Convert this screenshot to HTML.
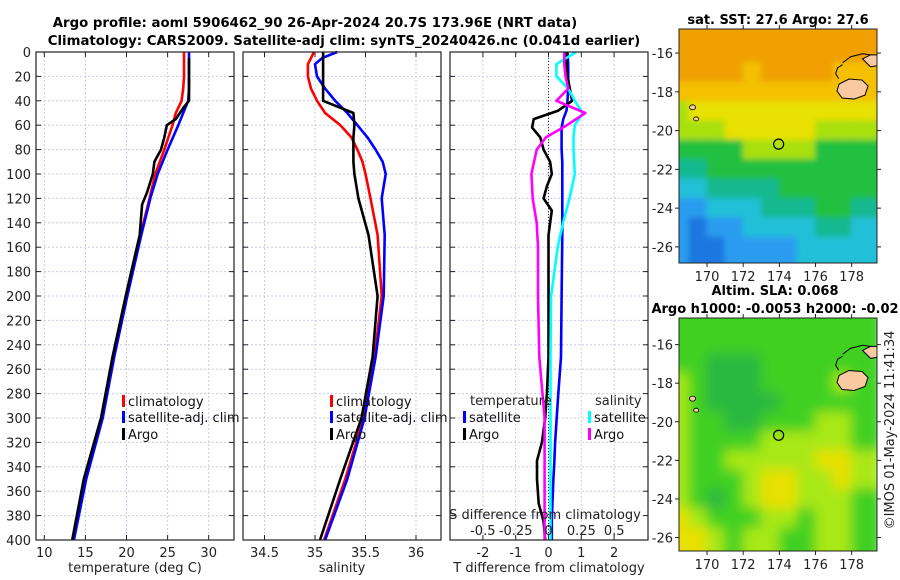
<!DOCTYPE html>
<html><head><meta charset="utf-8"><style>
html,body{margin:0;padding:0;background:#fff}
svg{display:block;font-family:"DejaVu Sans","Liberation Sans",sans-serif}
</style></head><body>
<svg id="chart" width="900" height="580" viewBox="0 0 900 580" xmlns="http://www.w3.org/2000/svg">
<defs>
<filter id="blurSST" x="-10%" y="-10%" width="120%" height="120%"><feGaussianBlur stdDeviation="3"/></filter>
<filter id="blurSLA" x="-10%" y="-10%" width="120%" height="120%"><feGaussianBlur stdDeviation="6"/></filter>
</defs>
<rect width="900" height="580" fill="#fff"/>
<text x="315" y="27" text-anchor="middle" font-size="13.3" font-weight="bold">Argo profile: aoml 5906462_90 26-Apr-2024 20.7S 173.96E (NRT data)</text>
<text x="344" y="45" text-anchor="middle" font-size="13.3" font-weight="bold">Climatology: CARS2009. Satellite-adj clim: synTS_20240426.nc (0.041d earlier)</text>
<text x="778" y="24" text-anchor="middle" font-size="13" font-weight="bold">sat. SST: 27.6 Argo: 27.6</text>
<text x="775" y="295" text-anchor="middle" font-size="13" font-weight="bold">Altim. SLA: 0.068</text>
<text x="775" y="313" text-anchor="middle" font-size="13" font-weight="bold">Argo h1000: -0.0053 h2000: -0.02</text>
<text transform="translate(894,430) rotate(-90)" text-anchor="middle" font-size="13" fill="#222">©IMOS 01-May-2024 11:41:34</text>
<g id="plots"></g>
</svg>
<script>
// ---- data ----
const depthT = [0,10,20,30,40,50,60,80,100,120,150,200,250,300,350,400];
const tempClim = [27.0,27.0,27.0,26.9,26.7,26.0,25.6,24.6,23.5,22.8,21.7,20.0,18.4,17.0,15.0,13.5];
const tempSat  = [27.6,27.6,27.6,27.6,27.5,26.9,26.3,25.0,23.8,22.9,21.8,20.1,18.5,17.1,15.1,13.6];
const depthArgo = [5,10,20,30,40,45,55,60,70,80,90,100,115,125,150,200,250,300,350,400];
const tempArgo = [27.6,27.6,27.6,27.6,27.6,27.0,26.0,24.9,24.6,24.2,23.4,23.2,22.5,21.9,21.6,19.9,18.3,16.9,14.8,13.4];
const depthS = [0,5,10,20,30,40,50,60,70,80,90,100,120,150,200,250,300,350,400];
const salClim = [34.99,34.96,34.93,34.93,34.96,35.02,35.10,35.25,35.36,35.42,35.47,35.50,35.55,35.62,35.66,35.59,35.48,35.30,35.09];
const salSat  = [35.22,35.07,35.00,35.02,35.10,35.20,35.32,35.42,35.52,35.60,35.67,35.70,35.66,35.69,35.68,35.60,35.49,35.32,35.10];
const salArgo = [35.08,35.08,35.08,35.08,35.08,35.08,35.38,35.39,35.38,35.38,35.38,35.39,35.43,35.53,35.62,35.57,35.46,35.25,35.05];
const depthD = [0,10,20,30,40,48,55,62,70,80,90,100,110,120,130,150,200,250,280,300,320,335,350,370,385,400];
const dTsat  = [0.58,0.6,0.6,0.6,0.58,0.55,0.45,0.4,0.4,0.4,0.42,0.42,0.42,0.42,0.42,0.42,0.4,0.38,0.3,0.25,0.2,0.18,0.15,0.12,0.1,0.1];
const dTargo = [0.55,0.55,0.58,0.65,0.72,0.3,-0.45,-0.5,-0.25,-0.15,0.05,0.1,-0.05,-0.15,0.1,0.0,0.0,0.0,-0.05,-0.1,-0.2,-0.35,-0.35,-0.3,-0.15,-0.1];
const depthDS = [0,10,20,30,40,50,60,70,80,100,120,140,160,200,250,300,350,400];
const dSsat  = [0.21,0.06,0.06,0.15,0.2,0.26,0.2,0.19,0.19,0.2,0.16,0.11,0.07,0.02,0.015,0.015,0.015,0.015];
const dSargo = [0.12,0.12,0.13,0.15,0.06,0.28,0.14,-0.02,-0.09,-0.13,-0.12,-0.09,-0.08,-0.08,-0.07,-0.03,-0.03,-0.03];
const depthTicks = [0,20,40,60,80,100,120,140,160,180,200,220,240,260,280,300,320,340,360,380,400];
const tTicks = [10,15,20,25,30];
const sTicks = [34.5,35,35.5,36];
const dTicks = [-2,-1,0,1,2];
const dsTicks = [-0.5,-0.25,0,0.25,0.5];
const dsTickLabels = ["-0.5","-0.25","0","0.25","0.5"];
const lonTicks = [170,172,174,176,178];
const latTicks = [-16,-18,-20,-22,-24,-26];
// SST map colour-class grid (rows lat -15..-27, cols lon 168.5..179.5)
const sstGrid = [
[8,8,8,8,8,8,8,8,8,8,8],[8,8,8,8,8,8,8,8,8,8,8],[8,8,8,8,7,8,8,8,8,7,7],
[7,7,7,7,7,7,7,7,7,7,7],[5,6,6,6,6,6,6,6,6,6,6],[5,5,5,6,6,6,6,6,5,5,5],
[4,4,4,4,5,5,5,5,4,4,4],[3,3,4,4,4,4,4,4,4,4,4],[2,2,3,3,3,3,4,4,4,4,4],
[1,1,2,2,2,3,3,3,4,4,3],[1,0,1,1,2,2,2,2,3,3,2],[1,0,0,1,1,1,1,2,2,2,2],[1,0,0,1,1,1,1,2,2,2,2]];
const sstColors = ["#1a78e0","#2a9cf0","#20c0d8","#18b890","#20c040","#a8e010","#e8e000","#f4c000","#f0a000"];
const slaGrid = [
[1,1,1,1,1,1,1,1,1,1,1],[1,1,1,1,1,1,1,1,1,1,1],[1,1,0,0,0,1,1,1,1,1,1],
[2,1,0,0,0,1,1,1,1,2,1],[2,1,0,0,0,0,1,1,1,1,1],[2,1,1,0,0,1,1,1,2,2,1],
[2,1,1,1,1,2,2,2,2,2,1],[2,1,1,2,2,2,2,2,3,3,2],[2,1,1,1,2,3,3,2,2,3,2],
[2,1,0,1,2,3,3,2,2,2,1],[3,2,1,1,1,2,2,1,2,2,1],[3,3,2,1,2,2,1,1,2,2,1],[3,3,2,1,2,2,1,1,2,2,1]];
const slaColors = ["#2cb840","#40d020","#a8e818","#e8e000"];
const argoLon = 173.96, argoLat = -20.7;

// ---- helpers ----
const NS="http://www.w3.org/2000/svg";
const root=document.getElementById('plots');
function mk(tag,attrs,parent){const e=document.createElementNS(NS,tag);for(const k in attrs)e.setAttribute(k,attrs[k]);(parent||root).appendChild(e);return e;}
const Y0=52,Y1=540;
const yD=d=>Y0+d*(Y1-Y0)/400;
const xT=t=>44.3+(t-10)*8.22;
const xS=s=>315+(s-35)*101;
const xDT=d=>548.5+d*32.8;
const xDS=s=>548.5+s*131.4;
const panels=[{x0:36,x1:234},{x0:243,x1:441},{x0:450,x1:648}];

function drawPanel(p,idx,ticks,xf,name){
  const g=mk('g',{});
  
  
  mk('rect',{x:p.x0,y:Y0,width:p.x1-p.x0,height:Y1-Y0,fill:'#fff'},g);
  depthTicks.forEach(d=>{
    const l=mk('line',{x1:p.x0,x2:p.x1,y1:yD(d),y2:yD(d),stroke:'#c8cce8','stroke-width':1,'stroke-dasharray':'2,2'},g);
    
    
    mk('line',{x1:p.x0,x2:p.x0+5,y1:yD(d),y2:yD(d),stroke:'#222'},g);
    mk('line',{x1:p.x1,x2:p.x1-5,y1:yD(d),y2:yD(d),stroke:'#222'},g);
  });
  ticks.forEach(t=>{
    const l=mk('line',{x1:xf(t),x2:xf(t),y1:Y0,y2:Y1,stroke:'#c8cce8','stroke-width':1,'stroke-dasharray':'2,2'},g);
    
    
    mk('line',{x1:xf(t),x2:xf(t),y1:Y1,y2:Y1-5,stroke:'#222'},g);
    mk('line',{x1:xf(t),x2:xf(t),y1:Y0,y2:Y0+5,stroke:'#222'},g);
    const tx=mk('text',{x:xf(t),y:557,'text-anchor':'middle','font-size':13,fill:'#222'},g);
    tx.textContent=String(t);
    
    
  });
  return g;
}
function line(g,xs,ds,xf,color,name){
  const pts=xs.map((v,i)=>xf(v).toFixed(1)+','+yD(ds[i]).toFixed(1)).join(' ');
  const l=mk('polyline',{points:pts,fill:'none',stroke:color,'stroke-width':2.6,'stroke-linejoin':'round'},g);
  
  
}
function frame(g,p){mk('rect',{x:p.x0,y:Y0,width:p.x1-p.x0,height:Y1-Y0,fill:'none',stroke:'#222','stroke-width':1.2},g);}
function legend(g,x,y,color,label){
  mk('rect',{x:x,y:y-6,width:3,height:12,fill:color},g);
  const t=mk('text',{x:x+6,y:y+5,'font-size':13,fill:'#111'},g);
  t.textContent=label;
  
  
}
function txt(g,x,y,s,anchor,name){const t=mk('text',{x:x,y:y,'font-size':13,fill:'#222','text-anchor':anchor||'start'},g);t.textContent=s;return t;}

// panel 1
const g1=drawPanel(panels[0],0,tTicks,xT,'temperature-panel');
depthTicks.forEach(d=>txt(g1,31,yD(d)+5,String(d),'end','y-tick-label'));
line(g1,tempClim,depthT,xT,'#ff0000','temp-climatology-line');
line(g1,tempSat,depthT,xT,'#0000ff','temp-satellite-line');
line(g1,tempArgo,depthArgo,xT,'#000000','temp-argo-line');
legend(g1,122,401,'#ff0000','climatology');
legend(g1,122,417,'#0000ff','satellite-adj. clim');
legend(g1,122,434,'#000000','Argo');
txt(g1,135,572,'temperature (deg C)','middle','x-axis-title-temperature');
frame(g1,panels[0]);
// panel 2
const g2=drawPanel(panels[1],1,sTicks,xS,'salinity-panel');
line(g2,salClim,depthS,xS,'#ff0000','sal-climatology-line');
line(g2,salSat,depthS,xS,'#0000ff','sal-satellite-line');
line(g2,salArgo,depthS,xS,'#000000','sal-argo-line');
legend(g2,330,401,'#ff0000','climatology');
legend(g2,330,417,'#0000ff','satellite-adj. clim');
legend(g2,330,434,'#000000','Argo');
txt(g2,342,572,'salinity','middle','x-axis-title-salinity');
frame(g2,panels[1]);
// panel 3
const g3=drawPanel(panels[2],2,dTicks,xDT,'difference-panel');
mk('line',{x1:xDT(0),x2:xDT(0),y1:Y0,y2:Y1,stroke:'#333','stroke-width':1,'stroke-dasharray':'1,2'},g3);
line(g3,dTsat,depthD,xDT,'#0000ff','dT-satellite-line');
line(g3,dTargo,depthD,xDT,'#000000','dT-argo-line');
line(g3,dSsat,depthDS,xDS,'#00ffff','dS-satellite-line');
line(g3,dSargo,depthDS,xDS,'#ff00ff','dS-argo-line');
txt(g3,470,405,'temperature','start','legend-title-temperature');
legend(g3,463,417,'#0000ff','satellite');
legend(g3,463,434,'#000000','Argo');
txt(g3,595,405,'salinity','start','legend-title-salinity');
legend(g3,588,417,'#00ffff','satellite');
legend(g3,588,434,'#ff00ff','Argo');
txt(g3,545,519,'S difference from climatology','middle','s-diff-axis-title');
dsTicks.forEach((s,i)=>txt(g3,xDS(s),535,dsTickLabels[i],'middle','s-diff-tick-label'));
txt(g3,549,572,'T difference from climatology','middle','x-axis-title-tdiff');
frame(g3,panels[2]);

// maps
function drawMap(grid,colors,top,bot,latTop,latBot,name,filt){
  const g=mk('g',{});
  
  
  const X0=679,X1=877,lonL=168.45,lonR=179.4;
  const xL=lo=>X0+(lo-lonL)*(X1-X0)/(lonR-lonL);
  const yL=la=>top+(latTop-la)*(bot-top)/(latTop-latBot);
  const cp='clip'+name;
  const cpe=mk('clipPath',{id:cp},g);mk('rect',{x:X0,y:top,width:X1-X0,height:bot-top},cpe);
  const cg=mk('g',{'clip-path':'url(#'+cp+')'},g);
  const bg=mk('g',{filter:'url(#'+filt+')'},cg);
  grid.forEach((row,r)=>row.forEach((c,k)=>{
    const lo=168.5+k, la=-15-r;
    const ex=(k===0?-12:0), ew=(k===row.length-1?12:0)-ex;
    const ey=(r===0?-12:0), eh=(r===grid.length-1?12:0)-ey;
    const cell=mk('rect',{x:xL(lo-0.5)-0.5+ex,y:yL(la+0.5)-0.5+ey,width:xL(1)-xL(0)+1+ew,height:yL(0)-yL(1)+1+eh,fill:colors[c]},bg);
    
    
  }));
  // islands (Fiji)
  mk('path',{d:'M'+xL(177.3)+','+yL(-17.6)+' l10,-5 l13,1 l6,6 l-3,9 l-11,4 l-12,-1 l-5,-7z',fill:'#f9c9a0',stroke:'#000','stroke-width':1},cg);
  mk('path',{d:'M'+xL(177.5)+','+yL(-16.5)+' l8,-6 l12,-3 l14,2 M'+xL(177.5)+','+yL(-16.6)+' l-5,3 l-2,6 l3,5',fill:'none',stroke:'#000','stroke-width':1},cg);
  mk('path',{d:'M'+xL(178.6)+','+yL(-16.3)+' l8,-4 l12,0 l0,10 l-12,2z',fill:'#f9c9a0',stroke:'#000','stroke-width':1},cg);
  mk('ellipse',{cx:xL(169.2),cy:yL(-18.8),rx:3,ry:2.5,fill:'#f9c9a0',stroke:'#000','stroke-width':0.8},cg);
  mk('ellipse',{cx:xL(169.4),cy:yL(-19.4),rx:2.5,ry:2,fill:'#f9c9a0',stroke:'#000','stroke-width':0.8},cg);
  const c=mk('circle',{cx:xL(argoLon),cy:yL(argoLat),r:5,fill:'none',stroke:'#000','stroke-width':1.2},g);
  
  
  mk('rect',{x:X0,y:top,width:X1-X0,height:bot-top,fill:'none',stroke:'#222','stroke-width':1},g);
  latTicks.forEach(la=>{
    mk('line',{x1:X0-4,x2:X0,y1:yL(la),y2:yL(la),stroke:'#222'},g);
    mk('line',{x1:X1,x2:X1+4,y1:yL(la),y2:yL(la),stroke:'#222'},g);
    txt(g,673,yL(la)+5,String(la),'end','lat-tick-label');
  });
  lonTicks.forEach(lo=>{
    mk('line',{x1:xL(lo),x2:xL(lo),y1:bot,y2:bot+4,stroke:'#222'},g);
    mk('line',{x1:xL(lo),x2:xL(lo),y1:top,y2:top-4,stroke:'#222'},g);
    txt(g,xL(lo),bot+18,String(lo),'middle','lon-tick-label');
  });
}
drawMap(sstGrid,sstColors,29,263,-14.76,-26.83,'sst-map','blurSST');
drawMap(slaGrid,slaColors,318,551,-14.62,-26.7,'sla-map','blurSLA');
</script>
</body></html>
